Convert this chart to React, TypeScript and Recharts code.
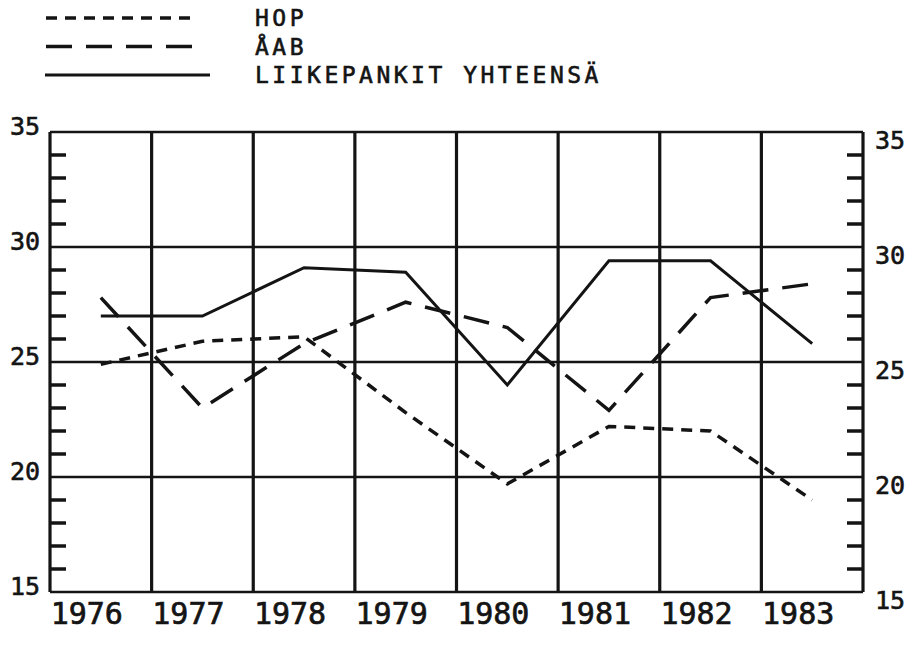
import React from 'react';
import { LineChart, Line, XAxis, YAxis, CartesianGrid, ReferenceLine } from 'recharts';

const years = ['1976', '1977', '1978', '1979', '1980', '1981', '1982', '1983'];
const hop = [24.9, 25.9, 26.1, 22.8, 19.7, 22.2, 22.0, 19.0];
const aab = [27.8, 23.0, 25.8, 27.6, 26.5, 22.9, 27.8, 28.4];
const total = [27.0, 27.0, 29.1, 28.9, 24.0, 29.4, 29.4, 25.8];
const yMajorTicks = [15, 20, 25, 30, 35];
const yMinorTicks = [16, 17, 18, 19, 21, 22, 23, 24, 26, 27, 28, 29, 31, 32, 33, 34];
const seriesNames = ['HOP', 'ÅAB', 'LIIKEPANKIT YHTEENSÄ'];

const series = [
  { key: 'hop', name: seriesNames[0], dash: '11 8', width: 3.5 },
  { key: 'aab', name: seriesNames[1], dash: '26 14', width: 3.5 },
  { key: 'total', name: seriesNames[2], dash: undefined as string | undefined, width: 3 },
];

const data = years.map((y, i) => ({ idx: i, year: y, hop: hop[i], aab: aab[i], total: total[i] }));
const xTicks = years.map((_, i) => i);
const columnEdges = years.map((_, i) => i - 0.5).concat([years.length - 0.5]);

const FONT = "'DejaVu Sans Mono', monospace";
const INK = '#141414';

const YearTick = (props: any) => {
  const { x, y, payload } = props;
  return (
    <text x={x - 14} y={y + 32} textAnchor="middle" fontFamily={FONT} fontSize={30} fill={INK} stroke={INK} strokeWidth={0.7}>
      {years[payload.value]}
    </text>
  );
};

const LeftTick = (props: any) => {
  const { x, y, payload } = props;
  return (
    <text x={x} y={y - 6} dy="0.36em" textAnchor="end" fontFamily={FONT} fontSize={25} fill={INK} stroke={INK} strokeWidth={0.6}>
      {payload.value}
    </text>
  );
};

const RightTick = (props: any) => {
  const { x, y, payload } = props;
  return (
    <text x={x} y={y + 8} dy="0.36em" textAnchor="start" fontFamily={FONT} fontSize={25} fill={INK} stroke={INK} strokeWidth={0.6}>
      {payload.value}
    </text>
  );
};

const EmptyTick = () => <g />;

const LegendBox = () => (
  <svg width={700} height={100} style={{ position: 'absolute', left: 0, top: 0 }}>
    {series.map((s, i) => {
      const y = 18 + i * 28.5;
      return (
        <g key={s.key}>
          <line
            x1={s.dash ? 46 : 45}
            x2={s.dash ? 198 : 210}
            y1={y}
            y2={y}
            stroke={INK}
            strokeWidth={s.width}
            strokeDasharray={s.dash}
          />
          <text x={255} y={y} dy="0.36em" fontFamily={FONT} fontSize={23} letterSpacing={3.5} fill={INK} stroke={INK} strokeWidth={0.6}>
            {s.name}
          </text>
        </g>
      );
    })}
  </svg>
);

export default function App() {
  return (
    <div style={{ position: 'absolute', left: 0, top: 0, width: 922, height: 646, background: '#fff' }}>
      <LineChart width={922} height={646} data={data} margin={{ top: 132, left: 5, right: 9, bottom: 14 }}>
        <CartesianGrid yAxisId="left" vertical={false} stroke={INK} strokeWidth={2.5} />
        <XAxis
          type="number"
          dataKey="idx"
          domain={[-0.5, 7.5]}
          ticks={xTicks}
          interval={0}
          allowDataOverflow
          axisLine={false}
          tickLine={false}
          tickSize={0}
          tickMargin={0}
          height={40}
          tick={YearTick}
        />
        <YAxis
          yAxisId="left"
          orientation="left"
          type="number"
          domain={[15, 35]}
          allowDataOverflow
          ticks={yMajorTicks}
          interval={0}
          width={45}
          axisLine={false}
          tickLine={false}
          tickSize={0}
          tickMargin={10}
          tick={LeftTick}
        />
        <YAxis
          yAxisId="right"
          orientation="right"
          type="number"
          domain={[15, 35]}
          allowDataOverflow
          ticks={yMajorTicks}
          interval={0}
          width={50}
          axisLine={false}
          tickLine={false}
          tickSize={0}
          tickMargin={12}
          tick={RightTick}
        />
        <YAxis
          yAxisId="leftMinor"
          orientation="left"
          type="number"
          mirror
          domain={[15, 35]}
          allowDataOverflow
          ticks={yMinorTicks}
          interval={0}
          axisLine={false}
          stroke={INK}
          strokeWidth={3.5}
          tickSize={16}
          tickLine={{ stroke: INK, strokeWidth: 3.5 }}
          tick={EmptyTick}
        />
        <YAxis
          yAxisId="rightMinor"
          orientation="right"
          type="number"
          mirror
          domain={[15, 35]}
          allowDataOverflow
          ticks={yMinorTicks}
          interval={0}
          axisLine={false}
          stroke={INK}
          strokeWidth={3.5}
          tickSize={16}
          tickLine={{ stroke: INK, strokeWidth: 3.5 }}
          tick={EmptyTick}
        />
        {columnEdges.map((e) => (
          <ReferenceLine key={e} yAxisId="left" x={e} stroke={INK} strokeWidth={3.2} ifOverflow="visible" />
        ))}
        {series.map((s) => (
          <Line
            key={s.key}
            yAxisId="left"
            type="linear"
            dataKey={s.key}
            name={s.name}
            stroke={INK}
            strokeWidth={s.width}
            strokeDasharray={s.dash}
            dot={false}
            activeDot={false}
            isAnimationActive={false}
          />
        ))}
      </LineChart>
      <LegendBox />
    </div>
  );
}
